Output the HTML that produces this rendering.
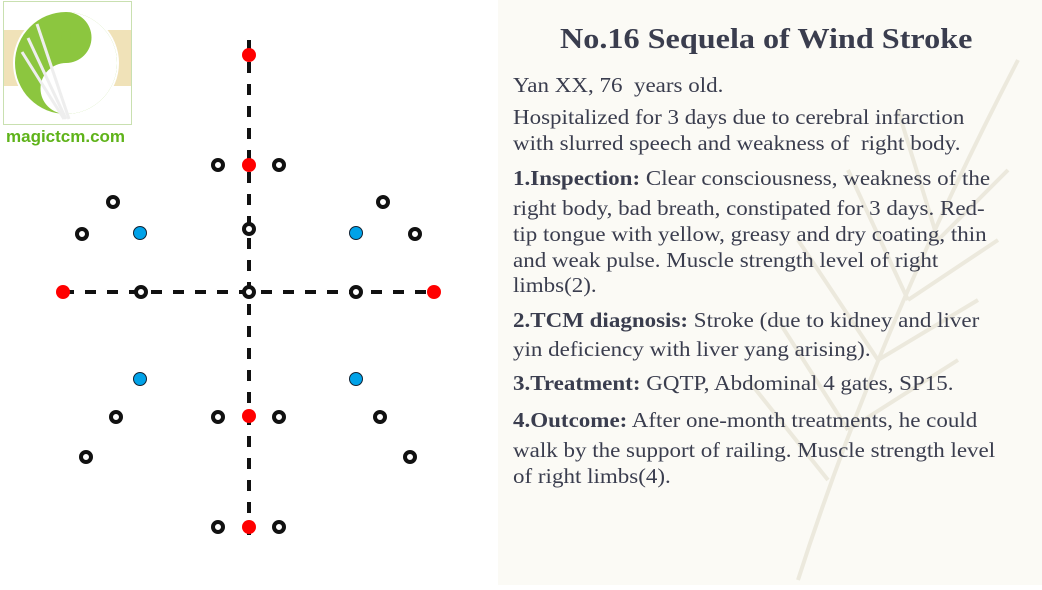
<!DOCTYPE html>
<html><head><meta charset="utf-8"><style>
body{margin:0;width:1042px;height:585px;overflow:hidden;background:#fff;position:relative;font-family:"Liberation Serif",serif}
#right{position:absolute;left:498px;top:0;width:544px;height:585px;background:#fbfaf5}
.l{position:absolute;left:513px;font-size:21px;color:#3a3d4e;white-space:nowrap;line-height:26px;transform:scaleX(1.095);transform-origin:0 0}
.l b{font-weight:bold}
#title{position:absolute;left:560px;top:24px;font-size:28px;font-weight:bold;color:#3a3d4e;line-height:32px;white-space:nowrap;transform:scaleX(1.15);transform-origin:0 0}
</style></head><body>
<div id="right">
<svg width="544" height="585"><g stroke="#ece9dd" stroke-width="4" fill="none"><path d="M300,580 Q380,330 520,60"/><path d="M330,480 L250,380 M350,430 L280,320 M380,360 L300,240 M410,300 L350,170 M440,240 L400,110 M350,430 L460,360 M380,360 L480,300 M410,300 L500,240 M440,240 L510,170"/></g></svg>
</div>
<div style="position:absolute;left:3px;top:1px;width:127px;height:122px;border:1px solid #c9e0b0;background:#fff">
<svg width="127" height="122"><rect x="0" y="28" width="127" height="56" fill="#f0e2b8"/><circle cx="62" cy="61" r="53" fill="#fff"/><circle cx="62" cy="61" r="51" fill="#8cc63f"/><path d="M62,10 A51,51 0 0 1 62,112 A25.5,25.5 0 0 1 62,61 A25.5,25.5 0 0 0 62,10Z" fill="#fff"/><circle cx="62" cy="34" r="5" fill="#8cc63f"/><circle cx="72" cy="88" r="5" fill="#fff"/><g stroke="#eee" stroke-width="3"><line x1="33" y1="22" x2="65" y2="117"/><line x1="24" y1="36" x2="62" y2="117"/><line x1="18" y1="50" x2="60" y2="117"/></g></svg>
</div>
<div style="position:absolute;left:6px;top:127px;font-family:'Liberation Sans',sans-serif;font-weight:bold;font-size:17px;color:#5fb31a">magictcm.com</div>
<svg id="diag" width="498" height="585" style="position:absolute;left:0;top:0"></svg>
<div id="title">No.16 Sequela of Wind Stroke</div>
<div class="l" style="top:72px">Yan XX, 76&nbsp; years old.</div>
<div class="l" style="top:104px">Hospitalized for 3 days due to cerebral infarction</div>
<div class="l" style="top:130px">with slurred speech and weakness of&nbsp; right body.</div>
<div class="l" style="top:165px"><b>1.Inspection:</b> Clear consciousness, weakness of the</div>
<div class="l" style="top:195px">right body, bad breath, constipated for 3 days. Red-</div>
<div class="l" style="top:221px">tip tongue with yellow, greasy and dry coating, thin</div>
<div class="l" style="top:247px">and weak pulse. Muscle strength level of right</div>
<div class="l" style="top:272px">limbs(2).</div>
<div class="l" style="top:307px"><b>2.TCM diagnosis:</b> Stroke (due to kidney and liver</div>
<div class="l" style="top:336px">yin deficiency with liver yang arising).</div>
<div class="l" style="top:370px"><b>3.Treatment:</b> GQTP, Abdominal 4 gates, SP15.</div>
<div class="l" style="top:407px"><b>4.Outcome:</b> After one-month treatments, he could</div>
<div class="l" style="top:437px">walk by the support of railing. Muscle strength level</div>
<div class="l" style="top:463px">of right limbs(4).</div>
<script>
// point coordinates in diagram units (origin = navel crossing)
const redX=[0,0,-186,185,0,0];
const redY=[-237,-127,0,0,124,235];
const ringX=[-31,30,-136,-167,0,134,166,-108,0,107,-133,-31,30,131,-163,161,-31,30];
const ringY=[-127,-127,-90,-58,-63,-90,-58,0,0,0,125,125,125,125,165,165,235,235];
const blueX=[-109,107,-109,107];
const blueY=[-59,-59,87,87];
const sx=v=>249+v, sy=v=>292+v;
const svg=document.getElementById('diag'),NS='http://www.w3.org/2000/svg';
function mk(t,a){const e=document.createElementNS(NS,t);for(const k in a)e.setAttribute(k,a[k]);svg.appendChild(e);return e;}
let e=mk('line',{x1:sx(0),y1:sy(-252),x2:sx(0),y2:sy(250),stroke:'#111','stroke-width':4,'stroke-dasharray':'11,11'});


e=mk('line',{x1:sx(-186),y1:sy(0),x2:sx(185),y2:sy(0),stroke:'#111','stroke-width':4,'stroke-dasharray':'11,11'});


ringX.forEach((x,i)=>{const c=mk('circle',{cx:sx(x),cy:sy(ringY[i]),r:5,fill:'#fff',stroke:'#111','stroke-width':4});

});
blueX.forEach((x,i)=>{const c=mk('circle',{cx:sx(x),cy:sy(blueY[i]),r:6.5,fill:'#00a2e8',stroke:'#123','stroke-width':1});

});
redX.forEach((x,i)=>{const c=mk('circle',{cx:sx(x),cy:sy(redY[i]),r:7,fill:'#f00'});

});
</script>
</body></html>
